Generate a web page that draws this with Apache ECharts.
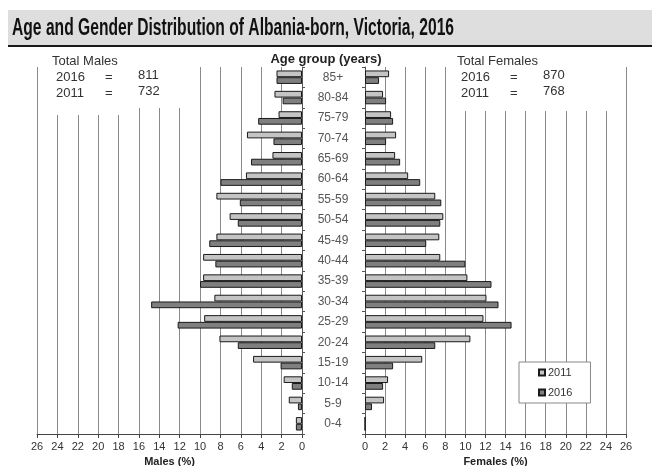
<html>
<head>
<meta charset="utf-8">
<script src="https://cdn.jsdelivr.net/npm/echarts@6/dist/echarts.min.js"></script>
<style>
  body { margin: 0; background: #fff; }
</style>
</head>
<body>
<div id="chart" style="width: 652px; height: 466px;"></div>
<script type="text/javascript">
// age groups, top to bottom
var ageGroups = ['85+', '80-84', '75-79', '70-74', '65-69', '60-64', '55-59', '50-54', '45-49',
                 '40-44', '35-39', '30-34', '25-29', '20-24', '15-19', '10-14', '5-9', '0-4'];
// percent of males / females
var males2011   = [2.5, 2.7, 2.3, 5.4, 2.9, 5.5, 8.4, 7.1, 8.4, 9.7, 9.7, 8.6, 9.6, 8.1, 4.8, 1.8, 1.3, 0.6];
var males2016   = [2.5, 1.9, 4.3, 2.8, 5.0, 8.0, 6.1, 6.3, 9.1, 8.5, 10.0, 14.8, 12.2, 6.3, 2.1, 1.0, 0.4, 0.6];
var females2011 = [2.4, 1.8, 2.6, 3.1, 3.0, 4.3, 7.0, 7.8, 7.4, 7.5, 10.2, 12.1, 11.8, 10.5, 5.7, 2.3, 1.9, 0];
var females2016 = [1.4, 2.1, 2.8, 2.1, 3.5, 5.5, 7.6, 7.5, 6.1, 10.0, 12.6, 13.3, 14.6, 7.0, 2.8, 1.8, 0.7, 0];
var totalMales = { y2016: 811, y2011: 732 };
var totalFemales = { y2016: 870, y2011: 768 };

var myChart = echarts.init(document.getElementById('chart'));

var gridColor = '#8a8a8a';
var textFont = "'Liberation Sans', Arial, sans-serif";

function xAxisFor(idx, inverse, name) {
    return {
        type: 'value', gridIndex: idx, inverse: inverse,
        min: 0, max: 26, interval: 2,
        name: name, nameLocation: 'middle', nameGap: 22,
        nameTextStyle: { fontSize: 11, fontWeight: 'bold', color: '#222', fontFamily: textFont },
        axisLine: { show: true, lineStyle: { color: '#444', width: 1 } },
        axisTick: { show: true, length: 4, lineStyle: { color: '#444' } },
        axisLabel: { fontSize: 11, color: '#333', margin: 7, fontFamily: textFont },
        splitLine: { show: true, lineStyle: { color: gridColor, width: 1 } }
    };
}

function barSeries(name, color, xi, data) {
    return {
        name: name, type: 'bar', xAxisIndex: xi, yAxisIndex: xi,
        data: data, barGap: '0%', barCategoryGap: '34%',
        itemStyle: { color: color, borderColor: '#1a1a1a', borderWidth: 1 },
        z: 3
    };
}

function totalsText(x, title, t) {
    var st = { fontSize: 13, fill: '#333', fontFamily: textFont };
    return [
        { type: 'text', left: x, top: 55, z: 5, style: Object.assign({ text: title }, st) },
        { type: 'text', left: x + 4, top: 71, z: 5, style: Object.assign({ text: '2016' }, st) },
        { type: 'text', left: x + 53, top: 71, z: 5, style: Object.assign({ text: '=' }, st) },
        { type: 'text', left: x + 86, top: 69, z: 5, style: Object.assign({ text: String(t.y2016) }, st) },
        { type: 'text', left: x + 4, top: 87, z: 5, style: Object.assign({ text: '2011' }, st) },
        { type: 'text', left: x + 53, top: 87, z: 5, style: Object.assign({ text: '=' }, st) },
        { type: 'text', left: x + 86, top: 85, z: 5, style: Object.assign({ text: String(t.y2011) }, st) }
    ];
}

var option = {
    animation: false,
    backgroundColor: '#fff',
    graphic: [
        { type: 'rect', left: 8, top: 10, z: 0, shape: { width: 644, height: 36 }, style: { fill: '#dedede' } },
        { type: 'rect', left: 8, top: 45, z: 0, shape: { width: 644, height: 2 }, style: { fill: '#1a1a1a' } },
        { type: 'text', x: 12, y: 17, z: 5, scaleX: 0.68,
          style: { text: 'Age and Gender Distribution of Albania-born, Victoria, 2016',
                   fontSize: 23, fontWeight: 'bold', fill: '#111', fontFamily: textFont } },
        { type: 'text', left: 'center', top: 53, z: 5,
          style: { text: 'Age group (years)', fontSize: 13, fontWeight: 'bold', fill: '#222', fontFamily: textFont } },
        // white boxes behind totals
        { type: 'rect', left: 45, top: 60, z: 1, shape: { width: 82, height: 55 }, style: { fill: '#fff' } },
        { type: 'rect', left: 127, top: 60, z: 1, shape: { width: 62, height: 48 }, style: { fill: '#fff' } },
        { type: 'rect', left: 455, top: 60, z: 1, shape: { width: 160, height: 51 }, style: { fill: '#fff' } }
    ].concat(totalsText(52, 'Total Males', totalMales))
     .concat(totalsText(457, 'Total Females', totalFemales)),
    legend: {
        orient: 'vertical', left: 519, top: 362,
        data: ['2011', '2016'],
        backgroundColor: '#fff', borderColor: '#888', borderWidth: 1,
        padding: [5, 18, 5, 19],
        itemWidth: 6, itemHeight: 6, itemGap: 9,
        icon: 'rect',
        textStyle: { fontSize: 11, color: '#333', fontFamily: textFont, padding: [0, 0, 0, -2] }
    },
    grid: [
        { left: 37, right: 350, top: 67, bottom: 32, outerBoundsMode: 'none' },
        { left: 365, right: 26, top: 67, bottom: 32, outerBoundsMode: 'none' }
    ],
    xAxis: [
        xAxisFor(0, true, 'Males (%)'),
        xAxisFor(1, false, 'Females (%)')
    ],
    yAxis: [
        {
            type: 'category', gridIndex: 0, position: 'right', inverse: true, data: ageGroups,
            axisLine: { show: true, lineStyle: { color: '#555' } },
            axisTick: { show: true, length: 3, lineStyle: { color: '#555' } },
            axisLabel: { align: 'center', margin: 31, fontSize: 12, color: '#555', fontFamily: textFont },
            splitLine: { show: false }
        },
        {
            type: 'category', gridIndex: 1, position: 'left', inverse: true, data: ageGroups,
            axisLine: { show: true, lineStyle: { color: '#555' } },
            axisTick: { show: true, length: 3, lineStyle: { color: '#555' } },
            axisLabel: { show: false },
            splitLine: { show: false }
        }
    ],
    series: [
        barSeries('2011', '#c4c4c4', 0, males2011),
        barSeries('2016', '#7f7f7f', 0, males2016),
        barSeries('2011', '#c4c4c4', 1, females2011),
        barSeries('2016', '#7f7f7f', 1, females2016)
    ]
};

myChart.setOption(option);
</script>
</body>
</html>
